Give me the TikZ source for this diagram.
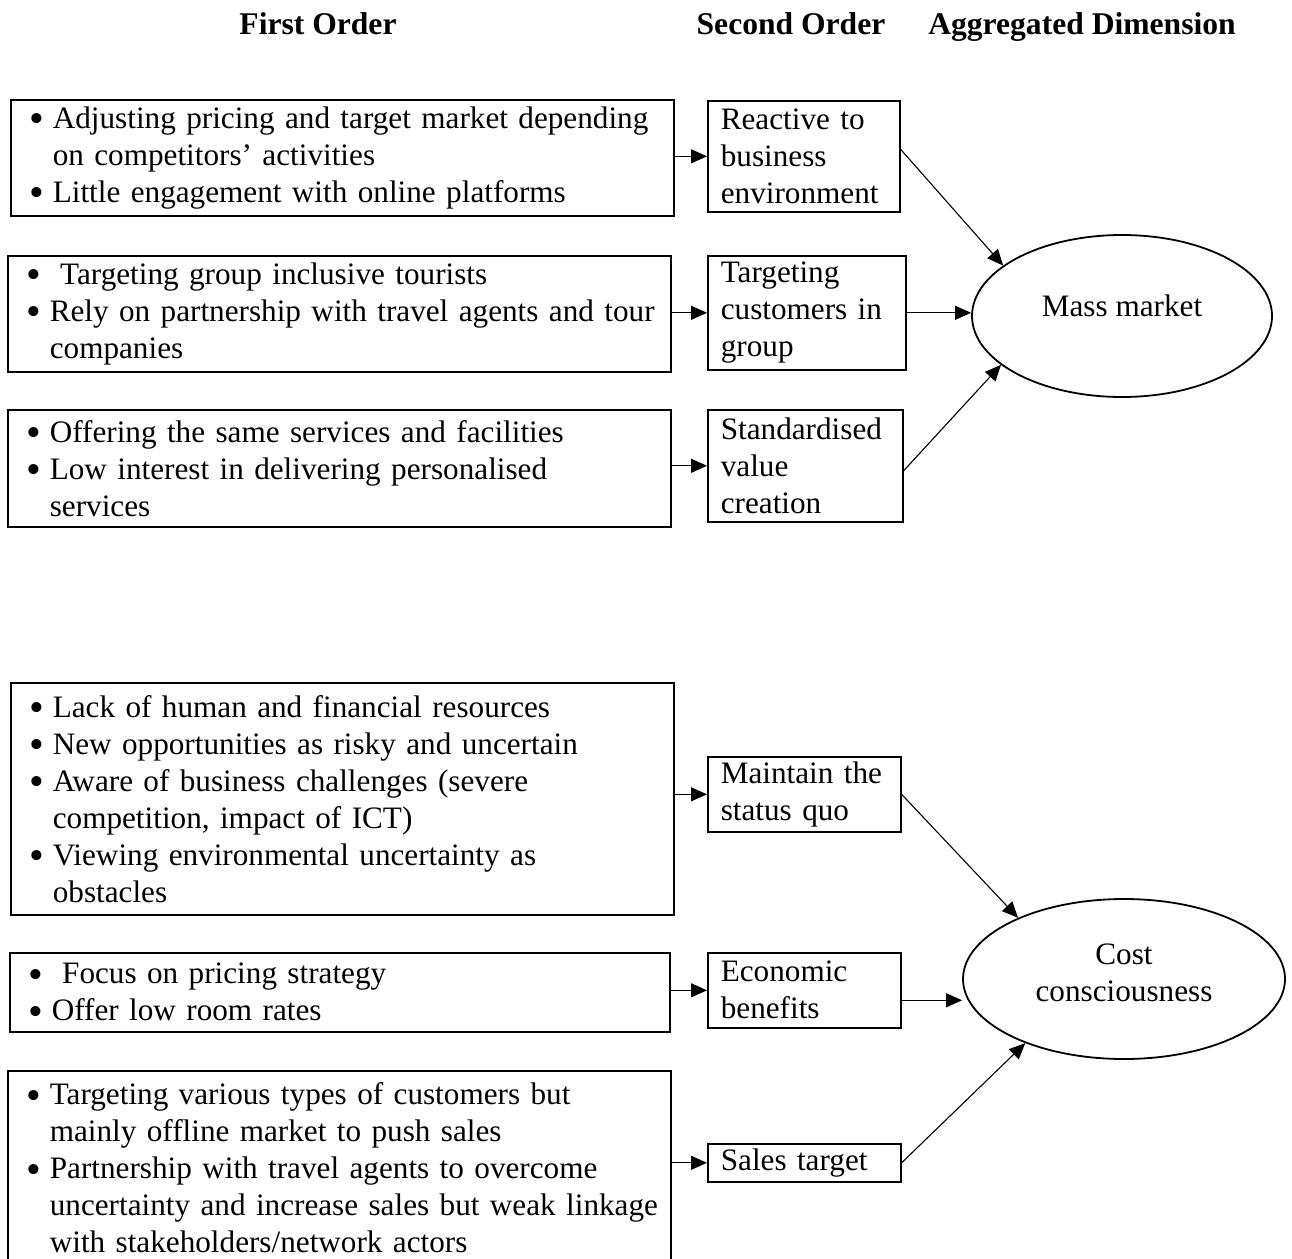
\documentclass[tikz,border=0pt]{standalone}
\usepackage{fontspec}
\setmainfont{Liberation Serif}
\usetikzlibrary{arrows.meta,shapes.geometric}
% bullet with a fixed hanging indent, and the matching indent for continuation lines
\newcommand\bt{\makebox[22pt][l]{\hspace{-1pt}\raisebox{-4.5pt}[0pt][0pt]{\scalebox{1.35}{\textbullet}}}}
\newcommand\ct{\hspace*{22pt}}
\begin{document}
\begin{tikzpicture}[x=1pt,y=-1pt,
  font=\fontsize{31.2}{37}\selectfont,
  firstbox/.style={draw, line width=1.6pt, anchor=north west, inner xsep=20pt, inner ysep=0pt, align=left},
  secondbox/.style={draw, line width=1.6pt, anchor=north west, inner xsep=13pt, inner ysep=0pt, align=left},
  dimension/.style={draw, ellipse, line width=1.8pt, inner sep=0pt, align=center},
  link/.style={line width=1.1pt, -{Triangle[length=16pt,width=14pt]}},
  heading/.style={font=\fontsize{31.6}{37}\selectfont\bfseries, anchor=base}]
\useasboundingbox (0,0) rectangle (1292,1258);
\clip (0,0) rectangle (1292,1258);

% column headings
\node[heading] (h1) at (318,34) {First Order};
\node[heading] (h2) at (791,34) {Second Order};
\node[heading] (h3) at (1082,34) {Aggregated Dimension};

% ---- upper group: mass market ----
\node[firstbox, text width=623pt, minimum height=116pt] (A1) at (10,99)
  {\bt\mbox{Adjusting pricing and target market depending}\\
   \ct\mbox{on competitors’ activities}\\
   \bt\mbox{Little engagement with online platforms}};
\node[firstbox, text width=623pt, minimum height=116pt] (A2) at (7,255)
  {\bt\mbox{ Targeting group inclusive tourists}\\
   \bt\mbox{Rely on partnership with travel agents and tour}\\
   \ct\mbox{companies}};
\node[firstbox, text width=623pt, minimum height=117pt] (A3) at (7,409)
  {\bt\mbox{Offering the same services and facilities}\\
   \bt\mbox{Low interest in delivering personalised}\\
   \ct\mbox{services}};

\node[secondbox, text width=166pt, minimum height=111pt] (B1) at (707,100)
  {Reactive to\\business\\environment};
\node[secondbox, text width=172pt, minimum height=114pt] (B2) at (707,255)
  {Targeting\\customers in\\group};
\node[secondbox, text width=169pt, minimum height=112pt] (B3) at (707,409)
  {Standardised\\value\\creation};

\node[dimension, minimum width=300pt, minimum height=162pt,
      text height=11pt, text depth=11pt] (MM) at (1122,316) {Mass market};

\draw[link] (A1.east |- B1.west) -- (B1.west);
\draw[link] (A2.east |- B2.west) -- (B2.west);
\draw[link] (A3.east |- B3.west) -- (B3.west);
\draw[link] ([yshift=7pt]B1.east) -- (MM.157);
\draw[link] (B2.east) -- (B2.east -| MM.west);
\draw[link] ([yshift=-5pt]B3.east) -- (MM.202);

% ---- lower group: cost consciousness ----
\node[firstbox, text width=623pt, minimum height=232pt] (A4) at (10,682)
  {\bt\mbox{Lack of human and financial resources}\\
   \bt\mbox{New opportunities as risky and uncertain}\\
   \bt\mbox{Aware of business challenges (severe}\\
   \ct\mbox{competition, impact of ICT)}\\
   \bt\mbox{Viewing environmental uncertainty as}\\
   \ct\mbox{obstacles}};
\node[firstbox, text width=620pt, minimum height=79pt] (A5) at (9,952)
  {\bt\mbox{ Focus on pricing strategy}\\
   \bt\mbox{Offer low room rates}};
\node[firstbox, text width=623pt, minimum height=194pt] (A6) at (7,1070)
  {\bt\mbox{Targeting various types of customers but}\\
   \ct\mbox{mainly offline market to push sales}\\
   \bt\mbox{Partnership with travel agents to overcome}\\
   \ct\mbox{uncertainty and increase sales but weak linkage}\\
   \ct\mbox{with stakeholders/network actors}};

\node[secondbox, text width=167pt, minimum height=75pt] (B4) at (707,756)
  {Maintain the\\status quo};
\node[secondbox, text width=167pt, minimum height=75pt] (B5) at (707,952)
  {Economic\\benefits};
\node[secondbox, text width=167pt, minimum height=38pt] (B6) at (707,1143)
  {Sales target};

\node[dimension, minimum width=322pt, minimum height=160pt,
      text depth=12pt] (CC) at (1124,979)
  {Cost\\consciousness};

\draw[link] (A4.east |- B4.west) -- (B4.west);
\draw[link] (A5.east |- B5.west) -- (B5.west);
\draw[link] (A6.east |- B6.west) -- (B6.west);
\draw[link] (B4.east) -- (CC.150);
\draw[link] ([yshift=-10pt]B5.east) -- ([yshift=-10pt]B5.east -| CC.west);
\draw[link] (B6.east) -- (CC.213);
\end{tikzpicture}
\end{document}
